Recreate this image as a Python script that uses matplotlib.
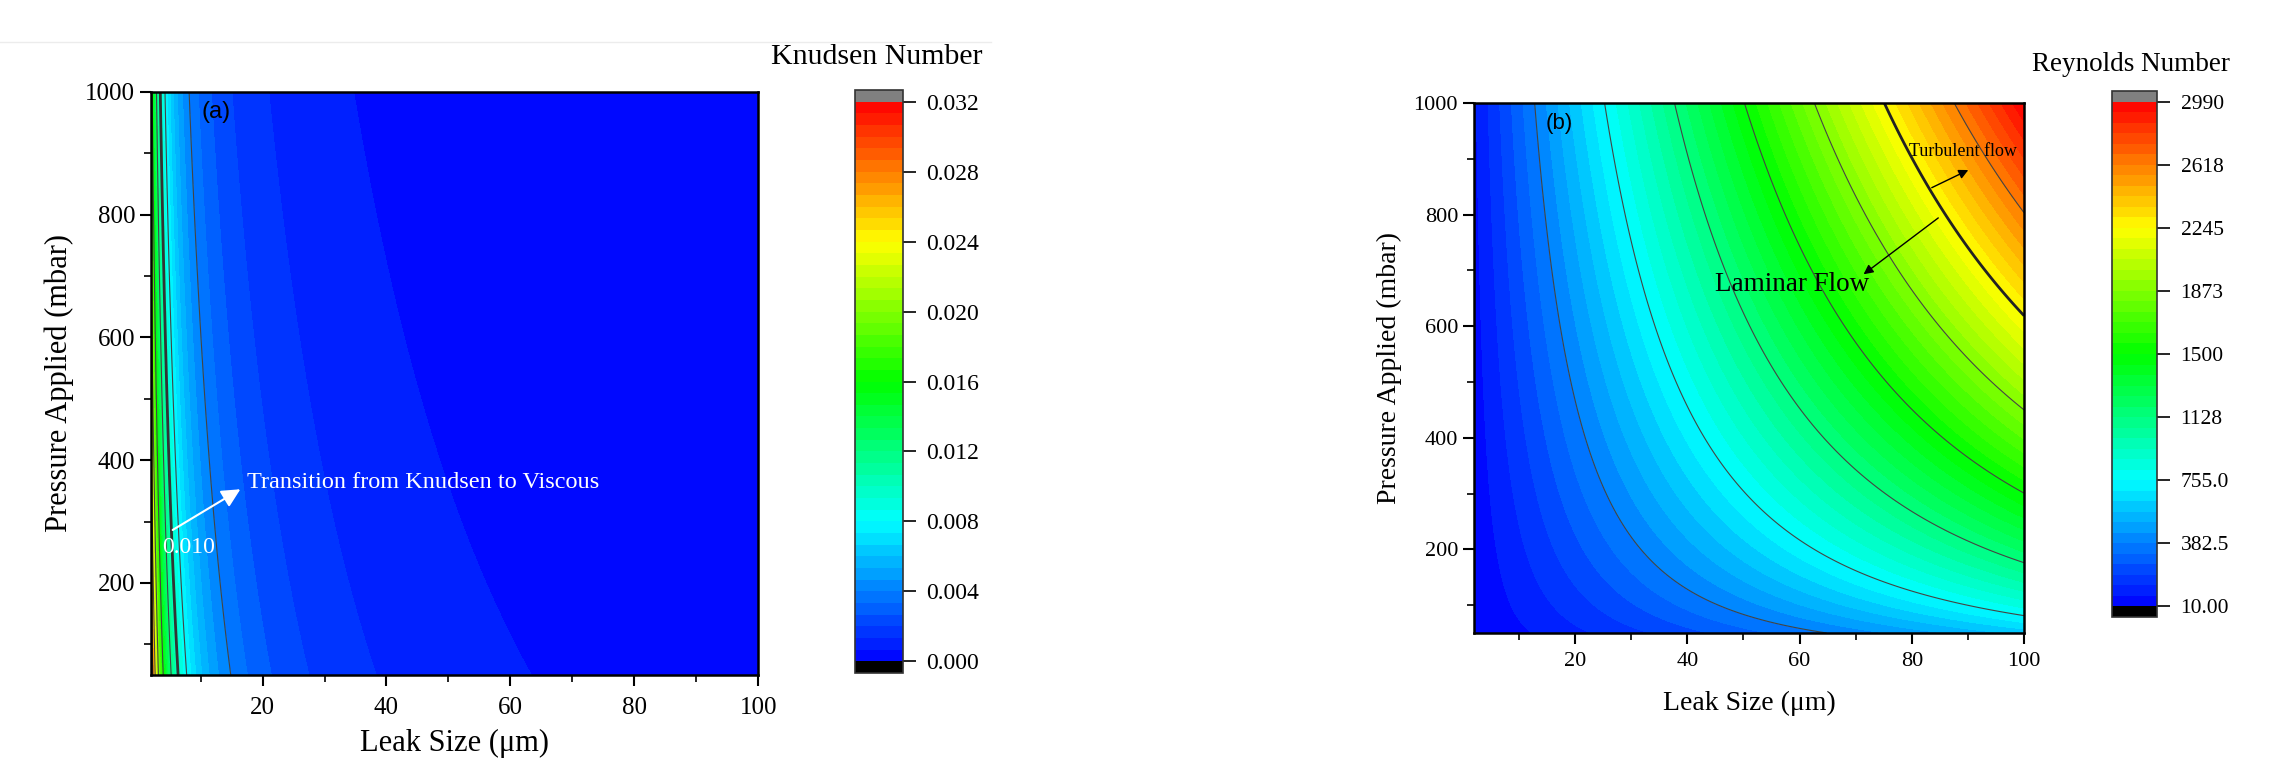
import numpy as np
import matplotlib.pyplot as plt
from matplotlib.colors import LinearSegmentedColormap

plt.rcParams['font.family'] = ['Liberation Serif', 'DejaVu Serif']
plt.rcParams['mathtext.fontset'] = 'stix'

# ---- values ----
leak_range = [2, 100]          # leak size, um
pressure_range = [50, 1000]    # applied pressure, mbar

# Knudsen number: Kn ~ 1/(d * (P0 + P)); max at (2 um, 50 mbar)
kn_max = 0.0318
kn_p_offset = 1100             # mbar, atmospheric-like offset
kn_ticklabels = ['0.000', '0.004', '0.008', '0.012', '0.016',
                 '0.020', '0.024', '0.028', '0.032']
kn_transition = 0.010

# Reynolds number: Re ~ d * sqrt(P * (A + P)); max at (100 um, 1000 mbar)
re_min, re_max = 10.0, 2990.0
re_shape = 3300
re_ticklabels = ['10.00', '382.5', '755.0', '1128', '1500',
                 '1873', '2245', '2618', '2990']
re_turbulent = 2245

n_bands = 48

rainbow = LinearSegmentedColormap.from_list(
    'origin_rainbow', ['#0000ff', '#00ffff', '#00ff00', '#ffff00', '#ff0000'])
rainbow.set_over('#808080')
rainbow.set_under('#000000')

d = np.linspace(leak_range[0], leak_range[1], 500)
p = np.linspace(pressure_range[0], pressure_range[1], 500)
D, P = np.meshgrid(d, p)

kn_const = kn_max * leak_range[0] * (kn_p_offset + pressure_range[0])
KN = kn_const / (D * (kn_p_offset + P))
kn_lo = kn_const / (leak_range[1] * (kn_p_offset + pressure_range[1]))

pn = pressure_range[1]
RE = re_max * (D / leak_range[1]) * np.sqrt(P * (re_shape + P) / (pn * (re_shape + pn)))

fig = plt.figure(figsize=(22.72, 7.64), dpi=100)

# faint screenshot border line at the top-left
fig.add_artist(plt.Line2D([0, 0.436], [0.945, 0.945], color='#ececec', lw=1))


def style_axes(ax, tick_fs, label_fs, xpad, labelpad):
    ax.set_xlim(leak_range)
    ax.set_ylim(pressure_range)
    ax.set_xticks([20, 40, 60, 80, 100])
    ax.set_xticks([10, 30, 50, 70, 90], minor=True)
    ax.set_yticks([200, 400, 600, 800, 1000])
    ax.set_yticks([100, 300, 500, 700, 900], minor=True)
    ax.tick_params(which='major', direction='out', length=8, width=1.5,
                   labelsize=tick_fs, top=False, right=False)
    ax.tick_params(axis='x', which='major', pad=xpad)
    ax.tick_params(which='minor', direction='out', length=5, width=1.2,
                   top=False, right=False)
    for s in ax.spines.values():
        s.set_linewidth(1.8)
    ax.set_xlabel('Leak Size (\u03bcm)', fontsize=label_fs, labelpad=labelpad)
    ax.set_ylabel('Pressure Applied (mbar)', fontsize=label_fs, labelpad=8)


def add_cbar(cs, rect, ticks, labels, title, title_xy, fs, title_fs):
    cax = fig.add_axes(rect)
    cb = fig.colorbar(cs, cax=cax, extend='both', extendrect=True,
                      extendfrac=1 / n_bands, drawedges=False)
    cb.set_ticks(ticks)
    cb.set_ticklabels(labels)
    cb.ax.tick_params(direction='out', length=9, width=1.2, labelsize=fs, pad=8)
    cb.ax.minorticks_off()
    cb.outline.set_linewidth(1.2)
    cb.outline.set_edgecolor('#333333')
    fig.text(title_xy[0], title_xy[1], title, fontsize=title_fs, ha='center', va='center')
    return cb


# ---- (a) Knudsen number ----
ax1 = fig.add_axes([0.0665, 0.1165, 0.2672, 0.7631])
kn_levels = np.linspace(kn_lo, kn_max, n_bands + 1)
kn_ticks = np.linspace(kn_lo, kn_max, 9)
cs1 = ax1.contourf(D, P, KN, levels=kn_levels, cmap=rainbow, extend='both')
ax1.contour(D, P, KN, levels=kn_ticks[1:-1], colors='#444444', linewidths=0.8)
ax1.contour(D, P, KN, levels=[kn_transition], colors='#333333', linewidths=2.0)
style_axes(ax1, 18, 22, 8, 7)
ax1.text(10.1, 967, '(a)', family='Liberation Sans', fontsize=17, va='center')
ax1.text(8.0, 258, '0.010', color='white', fontsize=17, ha='center', va='center')
ax1.annotate('Transition from Knudsen to Viscous', xy=(16.8, 355), xytext=(17.5, 363),
             color='white', fontsize=17.5, va='center', ha='left')
ax1.annotate('', xy=(16.8, 355), xytext=(5.1, 284),
             arrowprops=dict(arrowstyle='-|>', color='white', lw=1.5, mutation_scale=28))
add_cbar(cs1, [0.3763, 0.1191, 0.0211, 0.7631], kn_ticks, kn_ticklabels,
         'Knudsen Number', (0.3858, 0.925), 17, 21.5)

# ---- (b) Reynolds number ----
ax2 = fig.add_axes([0.6488, 0.1715, 0.2421, 0.6937])
re_levels = np.linspace(re_min, re_max, n_bands + 1)
re_ticks = np.linspace(re_min, re_max, 9)
cs2 = ax2.contourf(D, P, RE, levels=re_levels, cmap=rainbow, extend='both')
ax2.contour(D, P, RE, levels=re_ticks[1:-1], colors='#444444', linewidths=0.8)
ax2.contour(D, P, RE, levels=[re_turbulent], colors='#222222', linewidths=2.0)
style_axes(ax2, 16, 20, 6, 14)
ax2.text(14.8, 964, '(b)', family='Liberation Sans', fontsize=16, va='center')
ax2.text(45, 675, 'Laminar Flow', fontsize=19.5, va='center', ha='left')
ax2.text(79.4, 913, 'Turbulent flow', fontsize=13, va='center', ha='left')
ax2.annotate('', xy=(90.5, 882), xytext=(83.1, 846),
             arrowprops=dict(arrowstyle='-|>', color='black', lw=1.0, mutation_scale=14))
ax2.annotate('', xy=(71, 690), xytext=(85.1, 797),
             arrowprops=dict(arrowstyle='-|>', color='black', lw=1.0, mutation_scale=14))
add_cbar(cs2, [0.9296, 0.1924, 0.0198, 0.6885], re_ticks, re_ticklabels,
         'Reynolds Number', (0.938, 0.915), 15.5, 19.5)

fig.savefig('out.png', dpi=100)
